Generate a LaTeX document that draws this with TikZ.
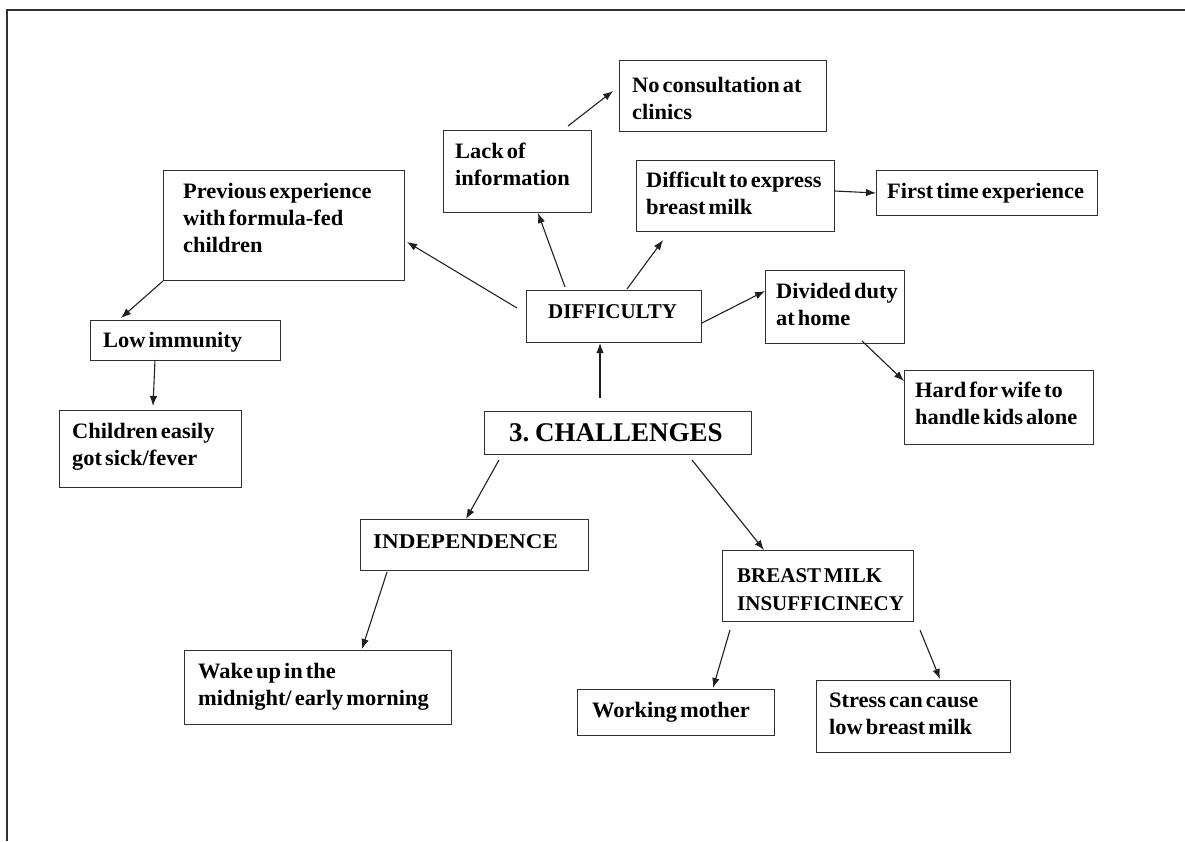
\documentclass[tikz,border=0pt]{standalone}
\usepackage{fontspec}
\usetikzlibrary{calc,arrows.meta}
\newfontfamily\boxfont{Liberation Serif}[WordSpace=0.55, FakeStretch=1.02]
\newfontfamily\capfont{Liberation Serif}[WordSpace=0.5]
\definecolor{boxline}{HTML}{303030}
\definecolor{arrowline}{HTML}{202020}
\newcommand\stack[1]{\begin{tabular}[t]{@{}l@{}}#1\end{tabular}}
\newcommand\mkbox[5]{\node[box, minimum width=#4pt-#2pt, minimum height=#5pt-#3pt] (#1) at (#2,-#3) {};}
\tikzset{
  box/.style={draw=boxline, line width=1.4pt, anchor=north west, inner sep=0pt},
  lbl/.style={anchor=base west, inner sep=0pt, font=\boxfont\bfseries\fontsize{22}{27}\selectfont},
  caplbl/.style={anchor=base west, inner sep=0pt, font=\capfont\bfseries\fontsize{21}{28}\selectfont},
  biglbl/.style={anchor=base west, inner sep=0pt, font=\capfont\bfseries\fontsize{27}{30}\selectfont},
  arr/.style={draw=arrowline, line width=1.1pt, -{Latex[length=10pt,width=7.5pt]}},
}
\begin{document}
\begin{tikzpicture}[x=1pt,y=1pt]
\useasboundingbox (0,0) rectangle (1185,-841);
% page frame
\draw[boxline, line width=1.3pt] (7,-841) -- (7,-10) -- (1185,-10);

% boxes: name, left, top, right, bottom
\mkbox{nocon}{619}{60}{826}{131}
\mkbox{lack}{443}{130}{591}{212}
\mkbox{diffexp}{636}{160}{834}{231}
\mkbox{first}{876}{170}{1097}{215}
\mkbox{prev}{163}{170}{404}{280}
\mkbox{diff}{526}{290}{701}{342}
\mkbox{divided}{765}{270}{904}{343}
\mkbox{hard}{904}{370}{1093}{444}
\mkbox{lowimm}{90}{320}{280}{360}
\mkbox{child}{59}{410}{241}{487}
\mkbox{chal}{484}{411}{751}{454}
\mkbox{indep}{360}{519}{588}{570}
\mkbox{breast}{722}{550}{913}{621}
\mkbox{wake}{184}{650}{451}{724}
\mkbox{working}{577}{689}{774}{735}
\mkbox{stress}{816}{680}{1010}{752}

% texts
\node[lbl] (nocon-t) at ($(nocon.north west)+(13,-32)$) {\stack{No consultation at\\clinics}};
\node[lbl] (lack-t) at ($(lack.north west)+(12,-28)$) {\stack{Lack of\\information}};
\node[lbl] (diffexp-t) at ($(diffexp.north west)+(10,-27)$) {\stack{Difficult to express\\breast milk}};
\node[lbl] (first-t) at ($(first.north west)+(11,-28)$) {First time experience};
\node[lbl] (prev-t) at ($(prev.north west)+(20,-28)$) {\stack{Previous experience\\with formula-fed\\children}};
\node[caplbl] (diff-t) at ($(diff.north west)+(22,-28)$) {DIFFICULTY};
\node[lbl] (divided-t) at ($(divided.north west)+(11,-28)$) {\stack{Divided duty\\at home}};
\node[lbl] (hard-t) at ($(hard.north west)+(11,-27)$) {\stack{Hard for wife to\\handle kids alone}};
\node[lbl] (lowimm-t) at ($(lowimm.north west)+(13,-27)$) {Low immunity};
\node[lbl] (child-t) at ($(child.north west)+(13,-28)$) {\stack{Children easily\\got sick/fever}};
\node[biglbl] (chal-t) at ($(chal.north west)+(25,-30)$) {3. CHALLENGES};
\node[caplbl] (indep-t) at ($(indep.north west)+(13,-29)$) {\addfontfeature{FakeStretch=1.1}INDEPENDENCE};
\node[caplbl] (breast-t) at ($(breast.north west)+(15,-32)$) {\stack{BREAST MILK\\INSUFFICINECY}};
\node[lbl] (wake-t) at ($(wake.north west)+(14,-28)$) {\stack{Wake up in the\\midnight/ early morning}};
\node[lbl] (working-t) at ($(working.north west)+(15,-28)$) {Working mother};
\node[lbl] (stress-t) at ($(stress.north west)+(13,-27)$) {\stack{Stress can cause\\low breast milk}};

% connectors
\draw[arr] ($(lack.north west)+(125,4)$) -- ($(nocon.north west)+(-6,-31)$);
\draw[arr] ($(diff.north west)+(39,3)$) -- ($(lack.north west)+(95,-83)$);
\draw[arr] ($(diff.north west)+(-9,-18)$) -- ($(prev.north west)+(244,-72)$);
\draw[arr] ($(diff.north west)+(101,1)$) -- ($(diffexp.north west)+(27,-80)$);
\draw[arr] ($(diff.north west)+(176,-33)$) -- ($(divided.north west)+(0,-21)$);
\draw[arr] ($(diffexp.north west)+(199,-31)$) -- ($(first.north west)+(0,-23)$);
\draw[arr] ($(divided.north west)+(97,-71)$) -- ($(hard.north west)+(0,-11)$);
\draw[arr] ($(chal.north west)+(116,13)$) -- ($(diff.north west)+(74,-53)$);
\draw[arr] ($(prev.north west)+(0,-111)$) -- ($(lowimm.north west)+(31,2)$);
\draw[arr] ($(lowimm.north west)+(65,-40)$) -- ($(child.north west)+(94,4)$);
\draw[arr] ($(chal.north west)+(15,-49)$) -- ($(indep.north west)+(106,0)$);
\draw[arr] ($(chal.north west)+(208,-49)$) -- ($(breast.north west)+(42,0)$);
\draw[arr] ($(indep.north west)+(27,-53)$) -- ($(wake.north west)+(178,1)$);
\draw[arr] ($(breast.north west)+(8,-80)$) -- ($(working.north west)+(136,1)$);
\draw[arr] ($(breast.north west)+(198,-80)$) -- ($(stress.north west)+(124,1)$);
\end{tikzpicture}
\end{document}
